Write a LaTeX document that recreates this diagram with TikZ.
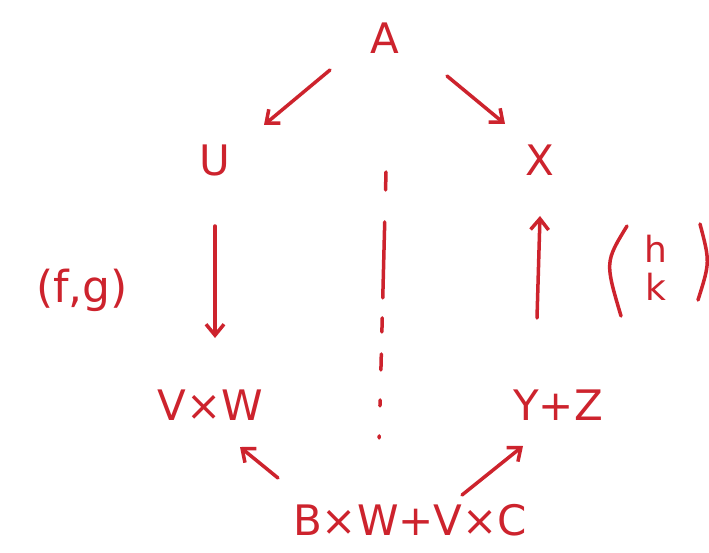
\documentclass[tikz,border=0pt]{standalone}
\usepackage{fontspec}
\setsansfont{DejaVu Sans}
\usetikzlibrary{arrows.meta}
\definecolor{ink}{RGB}{205,35,45}
\begin{document}
\begin{tikzpicture}[x=1pt,y=-1pt,
  obj/.style={text=ink,font=\fontsize{42}{46}\selectfont\sffamily,inner sep=2pt},
  lbl/.style={text=ink,font=\fontsize{44}{46}\selectfont\sffamily,inner sep=2pt},
  paren/.style={draw=ink,line width=3.5pt,line cap=round},
  mor/.style={draw=ink,line width=3.5pt,line cap=round,-{Straight Barb[length=11pt,width=18pt,line width=3.5pt]}}]
\useasboundingbox[fill=white] (0,0) rectangle (709,553);
\node[obj] (A) at (385,38) {A};
\node[obj] (U) at (215,160) {U};
\node[obj] (X) at (540,160) {X};
\node[obj] (VW) at (210,405) {V×W};
\node[obj] (YZ) at (558,405) {Y+Z};
\node[obj] (S) at (410,520) {B×W+V×C};
\node[lbl] (fg) at (82,290) {(f,g)};
\node[lbl,align=center,font=\fontsize{36}{38}\selectfont\sffamily] (hk) at (656,268) {h\\k};
% parentheses round the column (h, k)
\draw[paren] (627,226) .. controls (605,262) .. (621,316);
\draw[paren] (700,224) .. controls (710,262) .. (698,300);
\coordinate (a1) at (330,70);
\coordinate (a2) at (264,125);
\coordinate (b1) at (447,76);
\coordinate (b2) at (505,124);
\coordinate (u1) at (215,226);
\coordinate (u2) at (215,338);
\coordinate (x1) at (537,318);
\coordinate (x2) at (540,216);
\coordinate (s1) at (278,478);
\coordinate (s2) at (240,447);
\coordinate (t1) at (462,495);
\coordinate (t2) at (523,446);
\draw[mor] (a1) -- (a2);
\draw[mor] (b1) -- (b2);
\draw[mor] (u1) -- (u2);
\draw[mor] (x1) -- (x2);
\draw[mor] (s1) -- (s2);
\draw[mor] (t1) -- (t2);
\coordinate (d1) at (386,172);
\coordinate (d2) at (379,444);
\draw[ink,line width=3.5pt,line cap=round,dash pattern=on 18pt off 32pt on 76pt off 20pt on 14pt off 22pt on 16pt off 30pt on 6pt off 30pt on 2pt off 40pt] (d1) -- (d2);
\end{tikzpicture}
\end{document}
